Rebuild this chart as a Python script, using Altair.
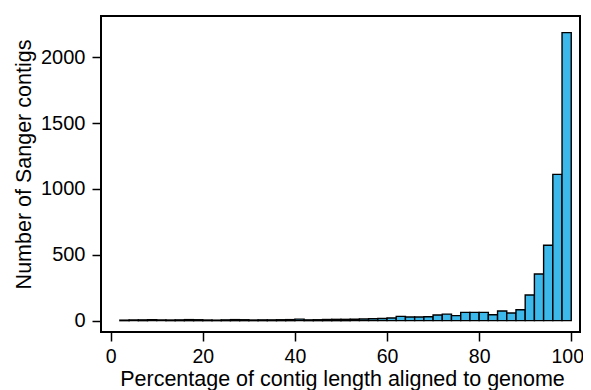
import altair as alt
import pandas as pd

bin_start = list(range(2, 100, 2))
counts = [4, 5, 6, 7, 6, 5, 6, 8, 7, 5,
          4, 6, 8, 7, 5, 6, 6, 7, 8, 12,
          6, 7, 9, 10, 10, 11, 13, 15, 17, 20,
          33, 28, 28, 30, 43, 50, 38, 63, 63, 63,
          45, 73, 58, 83, 195, 354, 573, 1111, 2187]
x_ticks = [0, 20, 40, 60, 80, 100]
y_ticks = [0, 500, 1000, 1500, 2000]

df = pd.DataFrame({"start": bin_start, "count": counts})
df["end"] = df["start"] + 2
df["zero"] = 0

FONT = "Liberation Sans"

chart = alt.Chart(df).mark_bar(
    fill="#3cb8ea", stroke="black", strokeWidth=1.4
).encode(
    x=alt.X("start:Q",
            scale=alt.Scale(domain=[-2.1, 101.9], nice=False, zero=False),
            axis=alt.Axis(values=x_ticks, format="d", title="Percentage of contig length aligned to genome",
                          labelFontSize=19.5, titleFontSize=21.5, labelFont=FONT, titleFont=FONT,
                          labelColor="black", titleColor="black", titleFontWeight="normal",
                          tickSize=9, tickColor="black", tickWidth=1.5, domain=False, grid=False,
                          labelBaseline="alphabetic", labelPadding=21, labelFlush=False,
                          labelOffset={"condition": {"test": "datum.value == 100", "value": -4}, "value": 0},
                          titleBaseline="alphabetic", titleX=241, titleY=53)),
    x2="end:Q",
    y=alt.Y("zero:Q",
            scale=alt.Scale(domain=[-86, 2313], nice=False, zero=False),
            axis=alt.Axis(values=y_ticks, format="d", title="Number of Sanger contigs",
                          labelFontSize=20, titleFontSize=21.5, labelFont=FONT, titleFont=FONT,
                          labelColor="black", titleColor="black", titleFontWeight="normal",
                          tickSize=9, tickColor="black", tickWidth=1.5, domain=False, grid=False,
                          labelPadding=7, labelFlush=False,
                          titleAngle=-90, titleBaseline="alphabetic", titleAlign="center",
                          titleX=-71, titleY=148)),
    y2="count:Q",
).properties(
    width=479, height=316,
    padding={"left": 93, "top": 8, "right": 3, "bottom": 58},
    autosize=alt.AutoSizeParams(type="none"),
).configure_view(
    stroke="black", strokeWidth=2
)

chart.save("out.html", embed_options={"renderer": "svg", "actions": False})
